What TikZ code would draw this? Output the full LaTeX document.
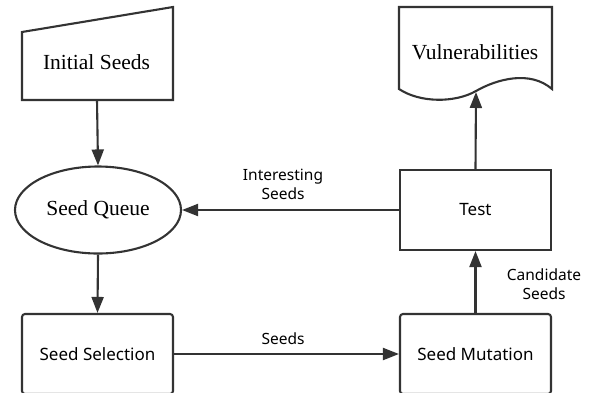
\documentclass[tikz,border=0pt]{standalone}
\usepackage{fontspec}
\setmainfont{Liberation Serif}
\newfontfamily\uisans{Noto Sans}
\usetikzlibrary{arrows.meta,shapes.geometric}
\definecolor{lc}{HTML}{333333}
\begin{document}
\begin{tikzpicture}[x=1pt,y=-1pt]
\tikzset{
  ln/.style={draw=lc, line width=2.1pt},
  arr/.style={ln, -{Triangle[length=16pt,width=12pt]}},
  serifbox/.style={font=\fontsize{21.5}{24}\selectfont, inner sep=0pt},
  sbox/.style={ln, minimum width=151pt, minimum height=80pt, inner sep=0pt, font=\uisans\fontsize{17}{20}\selectfont},
  lbl/.style={font=\uisans\fontsize{15.5}{19}\selectfont, align=center, inner sep=0pt}
}
\useasboundingbox (0,0) rectangle (592,392);
% Initial Seeds (manual input)
\draw[ln, line join=miter] (22,32) -- (173,7) -- (173,100) -- (22,100) -- cycle;
\node[serifbox] (init) at (96.5,62) {Initial Seeds};
\coordinate (initb) at (97,100);
% Seed Queue
\node[ln, ellipse, minimum width=166pt, minimum height=87pt, inner sep=0pt, font=\fontsize{21.5}{24}\selectfont] (queue) at (98,210) {Seed Queue};
% Seed Selection
\node[sbox, rounded corners=3pt] (sel) at (97.5,354) {Seed Selection};
% Seed Mutation
\node[sbox, rounded corners=3pt] (mut) at (475.5,354) {Seed Mutation};
% Test
\node[sbox] (test) at (475.5,210) {Test};
% Vulnerabilities (document)
\draw[ln] (399,89) -- (399,7) -- (552,7) -- (552,89)
  .. controls (530,70) and (497,79) .. (476,91)
  .. controls (455,103) and (420,103) .. (399,89) -- cycle;
\node[serifbox] (vuln) at (475,52) {Vulnerabilities};
\coordinate (vulnb) at (476,92);
% connectors
\draw[arr] (initb) -- (queue.north);
\draw[arr] (queue.south) -- (sel.north);
\draw[arr] (sel.east) -- (mut.west);
\draw[arr] (mut.north) -- (test.south);
\draw[arr] (test.north) -- (vulnb);
\draw[arr] (test.west) -- (queue.east);
% labels
\node[lbl] (lseeds) at (283,339) {Seeds};
\node[lbl] (linter) at (283,184) {Interesting\\Seeds};
\node[lbl] (lcand) at (544,284) {Candidate\\Seeds};
\end{tikzpicture}
\end{document}
